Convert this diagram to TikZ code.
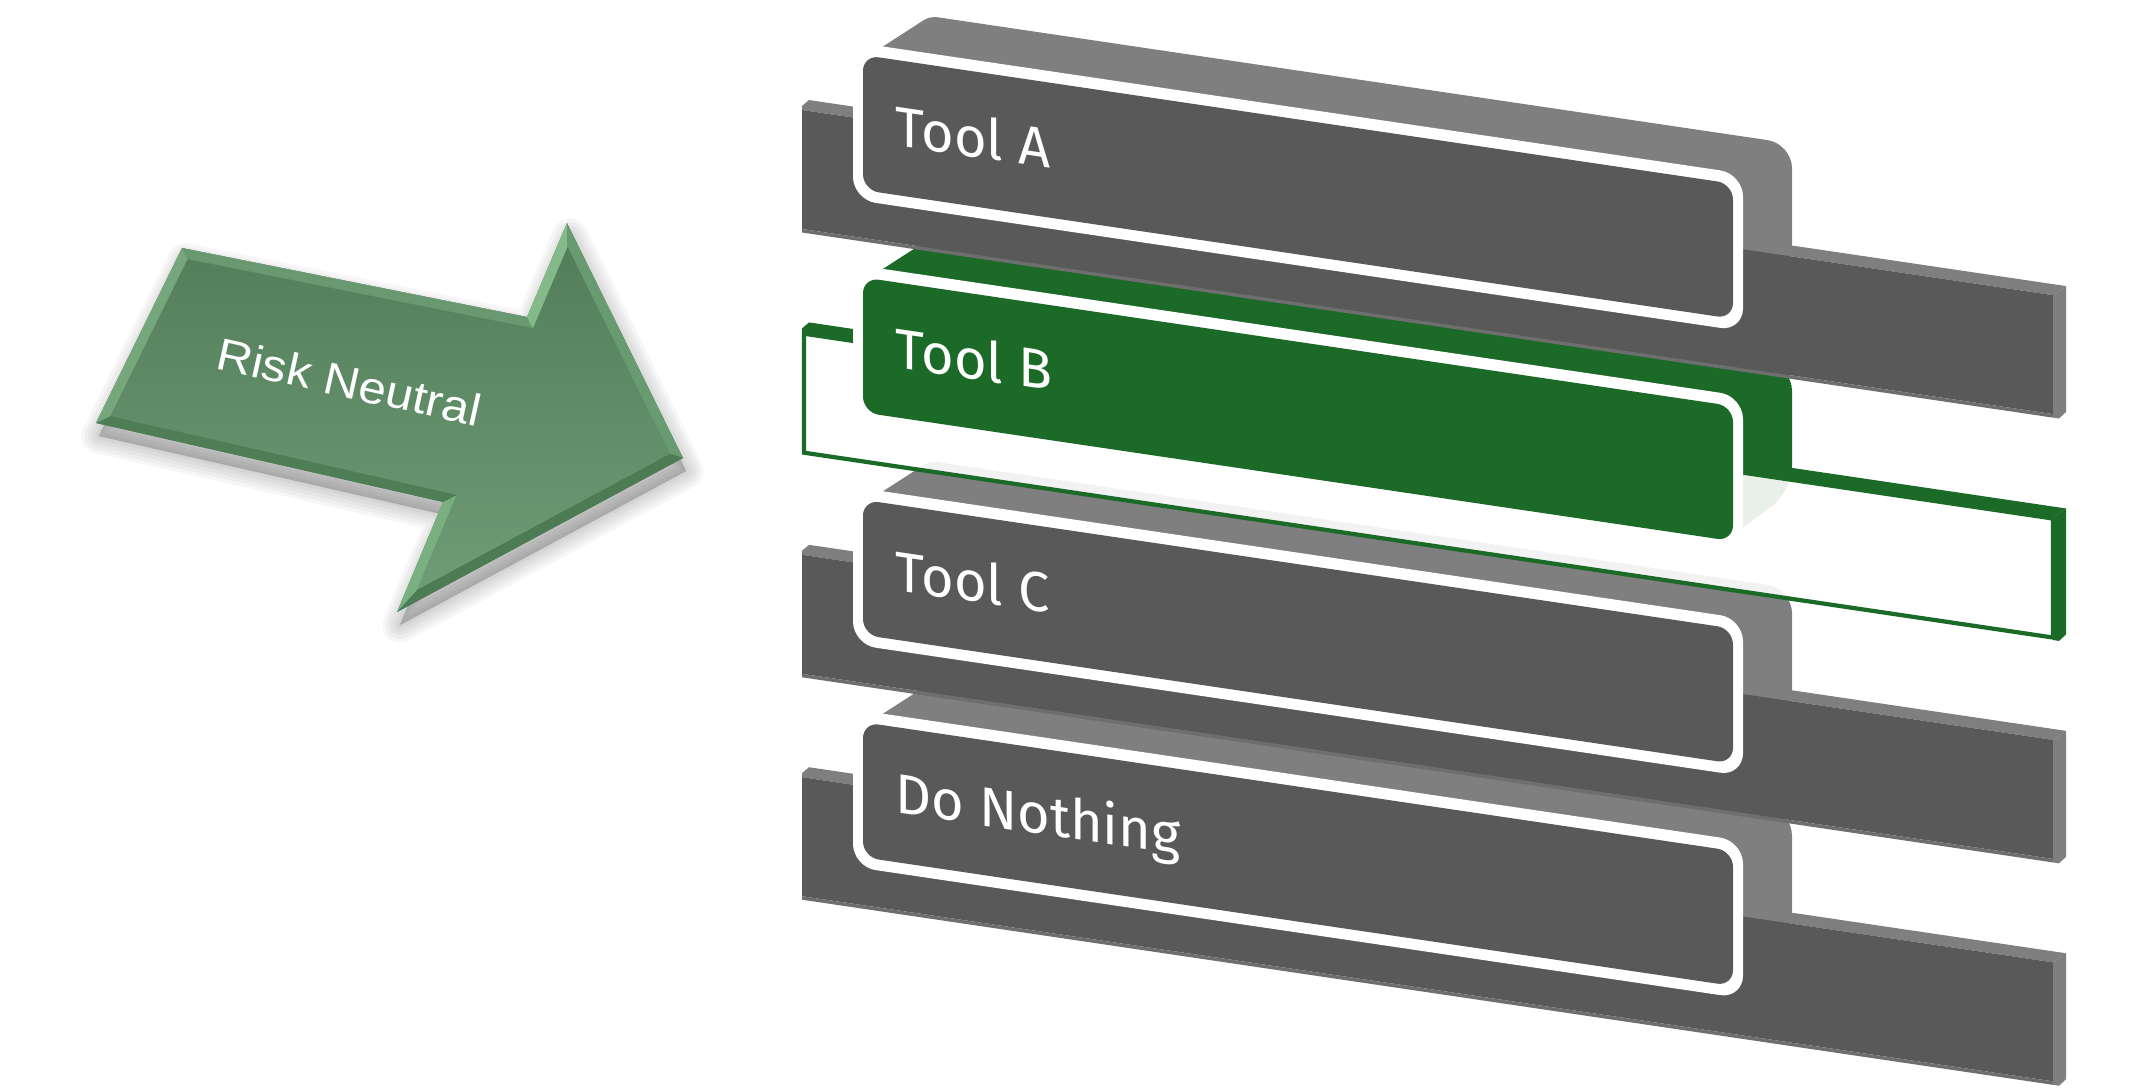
\documentclass[tikz,border=0pt]{standalone}
\usepackage{fontspec}
\setmainfont{Fira Sans}
\newfontfamily\arrowfont{Liberation Sans}
\definecolor{topgray}{HTML}{7F7F7F}
\definecolor{facegray}{HTML}{595959}
\definecolor{edgegray}{HTML}{6E6E6E}
\definecolor{tgreen}{HTML}{1B6A27}
\definecolor{arrtop}{HTML}{537E5A}
\definecolor{arrbot}{HTML}{6E9C75}
\definecolor{bevA}{HTML}{6A9971}
\definecolor{bevB}{HTML}{84B98A}
\definecolor{bevC}{HTML}{699B70}
\definecolor{bevD}{HTML}{4D7B54}
\definecolor{bevE}{HTML}{7AB081}
\definecolor{bevF}{HTML}{4F7D56}
\definecolor{bevG}{HTML}{76A77C}
\begin{document}
\begin{tikzpicture}[x=0.01cm,y=-0.01cm,
  toollabel/.style={anchor=base west, inner sep=0pt, text=white, transform shape,
    font=\fontsize{15.9pt}{19pt}\selectfont},
  rowframe/.style={shift={(802,#1)}, yslant=-0.148},
  shadowpath/.style={draw=black, fill=black, opacity=0.035, line join=round}
]
\useasboundingbox (0,0) rectangle (2153,1091);

% ---------- arrow ----------
\coordinate (p1) at (182,248);
\coordinate (p2) at (527,317);
\coordinate (p3) at (567,223);
\coordinate (p4) at (683,458);
\coordinate (p5) at (397,612);
\coordinate (p6) at (443,502);
\coordinate (p7) at (96,423);
\coordinate (q1) at (187.6,259.3);
\coordinate (q2) at (533.1,328.4);
\coordinate (q3) at (567.6,247);
\coordinate (q4) at (669.8,453.8);
\coordinate (q5) at (417.1,589.8);
\coordinate (q6) at (456.8,494.9);
\coordinate (q7) at (110.6,416.1);

\begin{scope}[shift={(3,13)}]
  \foreach \w in {10pt,8pt,6pt,4pt,2pt,0.5pt} {
    \path[shadowpath, line width=\w] (182,248) -- (527,317) -- (567,223) -- (683,458)
      -- (397,612) -- (443,502) -- (96,423) -- cycle;
  }
\end{scope}

\fill[arrtop] (p1) -- (p2) -- (p3) -- (p4) -- (p5) -- (p6) -- (p7) -- cycle;
\fill[bevA] (p1) -- (p2) -- (q2) -- (q1) -- cycle;
\fill[bevB] (p2) -- (p3) -- (q3) -- (q2) -- cycle;
\fill[bevC] (p3) -- (p4) -- (q4) -- (q3) -- cycle;
\fill[bevD] (p4) -- (p5) -- (q5) -- (q4) -- cycle;
\fill[bevE] (p5) -- (p6) -- (q6) -- (q5) -- cycle;
\fill[bevF] (p6) -- (p7) -- (q7) -- (q6) -- cycle;
\fill[bevG] (p7) -- (p1) -- (q1) -- (q7) -- cycle;
\shade[top color=arrtop, bottom color=arrbot] (q1) -- (q2) -- (q3) -- (q4) -- (q5) -- (q6) -- (q7) -- cycle;

\node[anchor=base west, inner sep=0pt, rotate=-12.5, xscale=1.1, text=white,
  font=\arrowfont\fontsize{12.8pt}{15pt}\selectfont] (rn) at (213.6,368.3) {Risk Neutral};

% ---------- card extrusions ----------
\foreach \yo/\ec in {110/topgray, 332.4/tgreen, 554.8/topgray, 777.2/topgray} {
  \begin{scope}[rowframe=\yo]
    \fill[\ec] (81,20) -- (81,-75.5) [rounded corners=2pt] -- (128,-112.8)
      [rounded corners=7pt] -- (990,-112.8) -- (990,12) [sharp corners] -- (941,56)
      -- (81,56) -- cycle;
  \end{scope}
}

% ---------- bars ----------
\foreach \yo in {110, 554.8, 777.2} {
  \begin{scope}[rowframe=\yo]
    \fill[topgray] (0,0) -- (0,-4) -- (7,-11) -- (1264,-11) -- (1251,0) -- cycle;
    \fill[facegray] (0,0) rectangle (1251,119);
    \fill[edgegray] (0,119) rectangle (1251,122.5);
    \fill[topgray] (1251,0) -- (1264,-11) -- (1264,115) -- (1257,122.5) -- (1251,122.5) -- cycle;
  \end{scope}
}
\begin{scope}[rowframe=332.4]
  \fill[tgreen] (0,0) -- (0,-4) -- (7,-11) -- (1264,-11) -- (1251,0) -- cycle;
  \fill[white, fill opacity=0.9] (0,0) rectangle (1251,121);
  \draw[tgreen, line width=1.2pt] (2,1) rectangle (1251,120);
  \fill[tgreen] (1251,0) -- (1264,-11) -- (1264,115) -- (1257,122.5) -- (1251,122.5) -- cycle;
\end{scope}

% ---------- card fronts ----------
\foreach \yo/\cc/\lab/\nm in {110/facegray/Tool A/cA, 332.4/tgreen/Tool B/cB,
    554.8/facegray/Tool C/cC, 777.2/facegray/Do Nothing/cD} {
  \begin{scope}[rowframe=\yo]
    \fill[white, rounded corners=6.5pt] (496,-75.5) -- (941,-75.5) -- (941,82) -- (51,82)
      -- (51,-75.5) -- cycle;
    \fill[\cc, rounded corners=4.5pt] (496,-64) -- (931,-64) -- (931,71) -- (61,71)
      -- (61,-64) -- cycle;
    \node[toollabel] (\nm) at (93,21.6) {\lab};
  \end{scope}
}
\end{tikzpicture}
\end{document}
